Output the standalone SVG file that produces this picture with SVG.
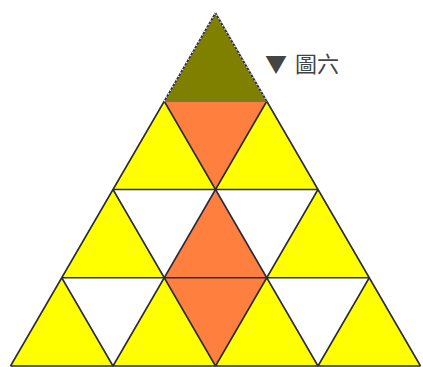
<svg xmlns="http://www.w3.org/2000/svg" width="423" height="367" viewBox="0 0 423 367">
<style>
.y{fill:#ffff00}.w{fill:#ffffff}.o{fill:#ff7f3f}.g{fill:#808000}
.ln{stroke:#2a2a3a;stroke-width:1.6;fill:none;stroke-linejoin:round}
.sel{stroke:#ffffff;stroke-width:1.2;stroke-dasharray:1.5 2.5;fill:none}
.lbl{font-family:"Noto Sans CJK TC","Noto Sans CJK SC",sans-serif;font-size:22px;fill:#444444}
</style>
<rect width="423" height="367" fill="#ffffff"/>
<g id="cells" stroke="none">
<polygon id="r1u1" class="g" points="215.5,13 266.75,101.25 164.25,101.25"/>
<polygon id="r2u1" class="y" points="164.25,101.25 215.5,189.5 113,189.5"/>
<polygon id="r2d1" class="o" points="164.25,101.25 266.75,101.25 215.5,189.5"/>
<polygon id="r2u2" class="y" points="266.75,101.25 318,189.5 215.5,189.5"/>
<polygon id="r3u1" class="y" points="113,189.5 164.25,277.75 61.75,277.75"/>
<polygon id="r3d1" class="w" points="113,189.5 215.5,189.5 164.25,277.75"/>
<polygon id="r3u2" class="o" points="215.5,189.5 266.75,277.75 164.25,277.75"/>
<polygon id="r3d2" class="w" points="215.5,189.5 318,189.5 266.75,277.75"/>
<polygon id="r3u3" class="y" points="318,189.5 369.25,277.75 266.75,277.75"/>
<polygon id="r4u1" class="y" points="61.75,277.75 113,366 10.5,366"/>
<polygon id="r4d1" class="w" points="61.75,277.75 164.25,277.75 113,366"/>
<polygon id="r4u2" class="y" points="164.25,277.75 215.5,366 113,366"/>
<polygon id="r4d2" class="o" points="164.25,277.75 266.75,277.75 215.5,366"/>
<polygon id="r4u3" class="y" points="266.75,277.75 318,366 215.5,366"/>
<polygon id="r4d3" class="w" points="266.75,277.75 369.25,277.75 318,366"/>
<polygon id="r4u4" class="y" points="369.25,277.75 420.5,366 318,366"/>
</g>
<g id="lines" class="ln">
<path d="M113,189.5 H318 M61.75,277.75 H369.25 M10.5,366 H420.5"/>
<path d="M215.5,13 L10.5,366 M266.75,101.25 L113,366 M318,189.5 L215.5,366 M369.25,277.75 L318,366"/>
<path d="M215.5,13 L420.5,366 M164.25,101.25 L318,366 M113,189.5 L215.5,366 M61.75,277.75 L113,366"/>
<path d="M164.25,101.25 H266.75" stroke="#6f7a4a"/>
</g>
<path class="sel" d="M164.25,101.25 L215.5,13 L266.75,101.25"/>
<text class="lbl" x="265" y="72">▼</text>
<text class="lbl" x="295" y="72">圖六</text>
</svg>
